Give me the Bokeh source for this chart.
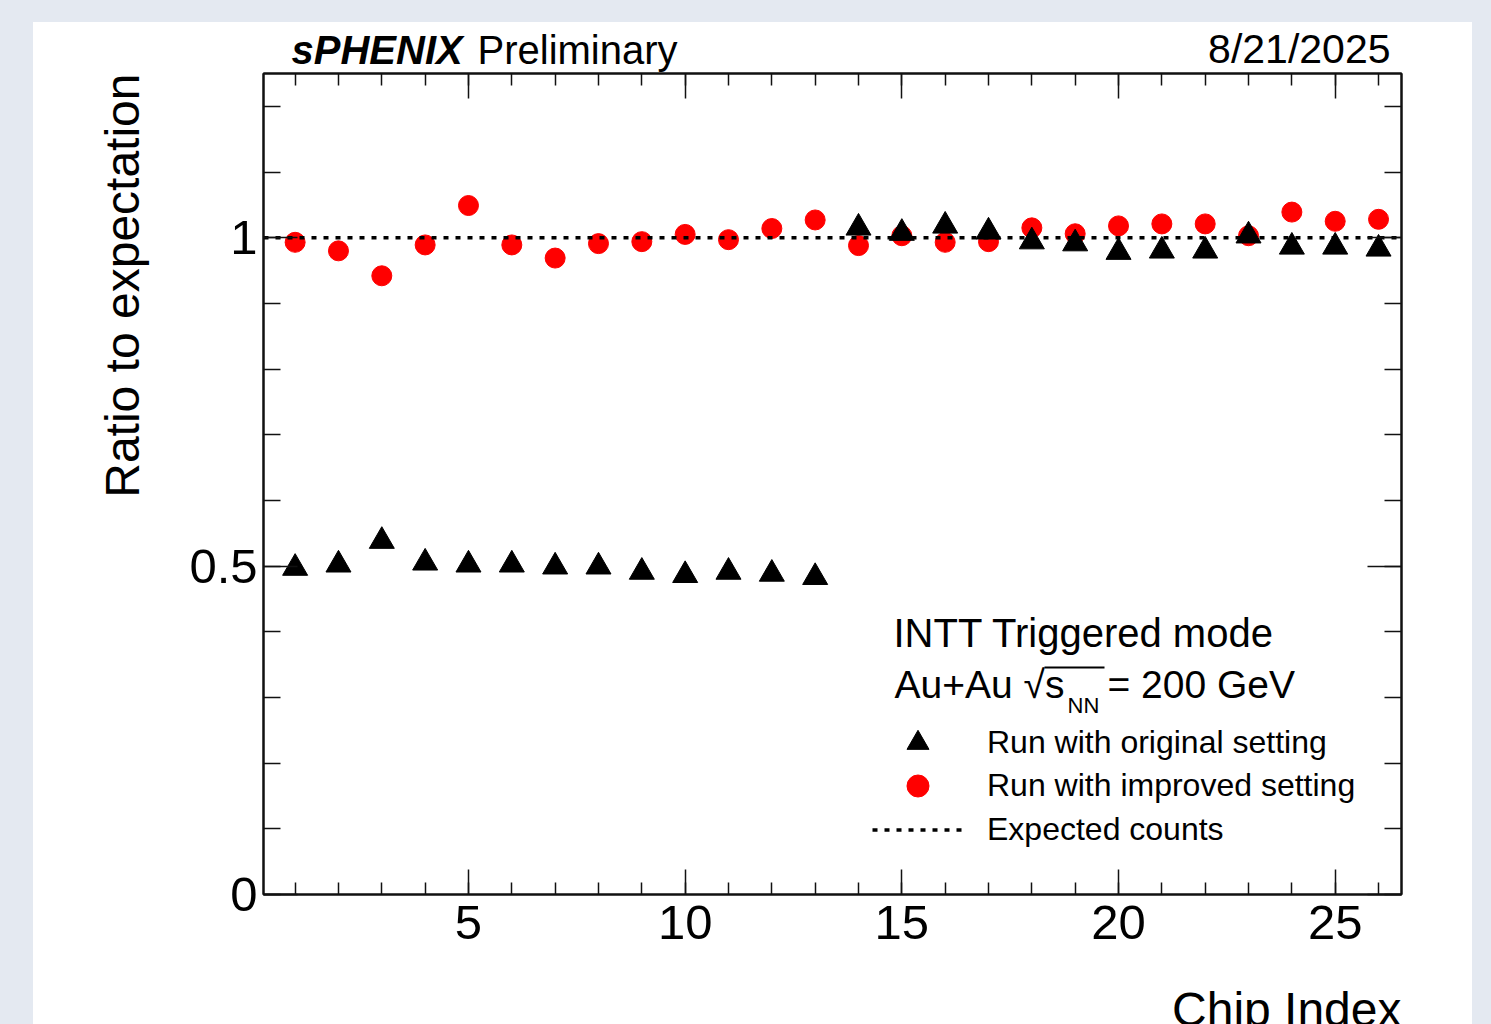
from bokeh.plotting import figure
from bokeh.layouts import column
from bokeh.models import (Range1d, LinearAxis, SingleIntervalTicker, Label, Legend,
                          LegendItem, NumeralTickFormatter, BoxAnnotation,
                          CustomJSTickFormatter, Title)
from bokeh.embed import file_html
from bokeh.resources import INLINE

# ---------------- data ----------------
chip_index = list(range(1, 27))
ratio_original = [0.497, 0.502, 0.538, 0.505, 0.502, 0.502, 0.499, 0.499, 0.491, 0.486,
                  0.491, 0.488, 0.483, 1.015, 1.007, 1.018, 1.009, 0.994, 0.991, 0.978,
                  0.980, 0.980, 1.003, 0.986, 0.986, 0.983]
ratio_improved = [0.993, 0.980, 0.942, 0.989, 1.049, 0.989, 0.969, 0.991, 0.994, 1.005,
                  0.997, 1.014, 1.027, 0.988, 1.003, 0.993, 0.994, 1.015, 1.006, 1.018,
                  1.021, 1.021, 1.003, 1.039, 1.025, 1.028]
expected_ratio = 1.0

x_start, x_end = 0.27, 26.53
y_start, y_end = 0.0, 1.25

FONT = "Liberation Sans"

# page geometry (pixels): white panel and plotting frame, used to place texts
PANEL_L, PANEL_T, PANEL_R = 33, 22, 1472
HEADER_H = 50
FL, FR, FT, FB = 263, 1401, 73, 894
BORDER_BOTTOM = 206
BASE_SHIFT = 0.36   # Label anchor correction (fraction of font size)


def dx(px):
    return x_start + (px - FL) / (FR - FL) * (x_end - x_start)


def dy(py):
    return y_start + (FB - py) / (FB - FT) * (y_end - y_start)


# ---------------- header strip with the top texts ----------------
head = figure(width=PANEL_R - PANEL_L, height=HEADER_H,
              x_range=Range1d(FL, FR), y_range=Range1d(PANEL_T + HEADER_H, PANEL_T),
              x_axis_type=None, y_axis_type=None, output_backend="svg", toolbar_location=None,
              min_border_left=0, min_border_right=0, min_border_top=0, min_border_bottom=0)
head.outline_line_color = None
head.grid.visible = False
head.background_fill_color = "white"
head.border_fill_color = "white"


def head_text(text, px, py, size, align="left", style="normal"):
    head.add_layout(Label(x=px, y=py - BASE_SHIFT * size, text=text, text_font=FONT,
                          text_font_size=f"{size}px", text_align=align,
                          text_baseline="alphabetic", text_font_style=style,
                          text_color="black"))


head_text("sPHENIX", 291, 63.5, 40, style="bold italic")
head_text("Preliminary", 477, 63.5, 40)
head_text("8/21/2025", 1390, 63.5, 41, align="right")

# ---------------- main plot ----------------
p = figure(width=PANEL_R - PANEL_L, height=1 + (FB - FT) + BORDER_BOTTOM,
           x_range=Range1d(x_start, x_end), y_range=Range1d(y_start, y_end),
           output_backend="svg", toolbar_location=None,
           min_border_left=230, min_border_right=71, min_border_top=1,
           min_border_bottom=BORDER_BOTTOM)
p.grid.visible = False
p.background_fill_color = "white"
p.border_fill_color = "white"
p.outline_line_color = "#111111"
p.outline_line_width = 2

xt = SingleIntervalTicker(interval=5, num_minor_ticks=5)
yt = SingleIntervalTicker(interval=0.5, num_minor_ticks=5)

xa = p.xaxis[0]
ya = p.yaxis[0]
xa.ticker = xt
ya.ticker = yt
ya.formatter = NumeralTickFormatter(format="0.[0]")

for ax in (xa, ya):
    ax.axis_line_color = "#111111"
    ax.axis_line_width = 2
    ax.major_tick_line_color = "#111111"
    ax.minor_tick_line_color = "#111111"
    ax.major_tick_line_width = 1.5
    ax.minor_tick_line_width = 1.5
    ax.major_tick_out = 0
    ax.minor_tick_out = 0
    ax.major_label_text_font = FONT
    ax.major_label_text_font_size = "49px"
    ax.major_label_text_color = "black"

xa.major_tick_in = 25
xa.minor_tick_in = 12
xa.major_label_standoff = 11
ya.major_tick_in = 34
ya.minor_tick_in = 17
ya.major_label_standoff = 6

# mirrored axes (ticks only, no labels)
blank = CustomJSTickFormatter(code="return ''")
top_ax = LinearAxis(ticker=xt, formatter=blank)
right_ax = LinearAxis(ticker=yt, formatter=blank)
for ax, tin, tmin in ((top_ax, 25, 12), (right_ax, 34, 17)):
    ax.axis_line_color = "#111111"
    ax.axis_line_width = 2
    ax.major_tick_line_color = "#111111"
    ax.minor_tick_line_color = "#111111"
    ax.major_tick_line_width = 1.5
    ax.minor_tick_line_width = 1.5
    ax.major_tick_out = 0
    ax.minor_tick_out = 0
    ax.major_tick_in = tin
    ax.minor_tick_in = tmin
    ax.major_label_text_font_size = "1px"
    ax.major_label_standoff = 0
p.add_layout(top_ax, "above")
p.add_layout(right_ax, "right")

# axis titles, aligned to the far end of each axis
p.add_layout(Title(text="Ratio to expectation", align="right", text_font=FONT,
                   text_font_size="48px", text_font_style="normal", text_color="black",
                   standoff=75), "left")
p.add_layout(Title(text="Chip Index", align="right", text_font=FONT,
                   text_font_size="48px", text_font_style="normal", text_color="black",
                   standoff=79), "below")

# ---------------- glyphs ----------------
r_imp = p.scatter(chip_index, ratio_improved, marker="circle", size=20,
                  fill_color="#ff0000", line_color="#ff0000")
r_orig = p.scatter(chip_index, ratio_original, marker="triangle", size=25,
                   fill_color="black", line_color="black")
r_exp = p.line([x_start, x_end], [expected_ratio, expected_ratio],
               line_color="black", line_width=3.5, line_dash="5 7")

# ---------------- legend (one entry per box) ----------------
GLYPH_H = 55
for label, rend, cy in (("Run with original setting", r_orig, 742),
                        ("Run with improved setting", r_imp, 785.5),
                        ("Expected counts", r_exp, 829.5)):
    lg = Legend(items=[LegendItem(label=label, renderers=[rend])])
    lg.glyph_width = 91
    lg.glyph_height = GLYPH_H
    lg.label_standoff = 24
    lg.padding = 0
    lg.margin = 0
    lg.spacing = 0
    lg.background_fill_alpha = 0
    lg.border_line_alpha = 0
    lg.label_text_font = FONT
    lg.label_text_font_size = "32px"
    lg.label_text_color = "black"
    lg.location = (872 - FL, FB - (cy + GLYPH_H / 2))
    p.add_layout(lg)

# ---------------- texts inside the frame ----------------


def add_text(text, px, py, size, align="left", style="normal"):
    p.add_layout(Label(x=dx(px), y=dy(py - BASE_SHIFT * size), text=text, text_font=FONT,
                       text_font_size=f"{size}px", text_align=align,
                       text_baseline="alphabetic", text_font_style=style,
                       text_color="black"))


add_text("INTT Triggered mode", 893, 647, 40)
add_text("Au+Au √s", 894, 698, 39)
add_text("NN", 1067, 713, 22)
add_text("= 200 GeV", 1107, 698, 39)
p.add_layout(BoxAnnotation(left=dx(1044), right=dx(1104), top=dy(666), bottom=dy(668),
                           fill_color="black", fill_alpha=1, line_alpha=0))

layout = column(head, p, spacing=0, styles={"background-color": "white"})
layout.margin = (PANEL_T, 0, 0, PANEL_L)

html = file_html(layout, INLINE, title="Ratio to expectation")
cut = html.rfind("</head>")
body_part = html[cut:].replace(
    "<body>", '<body style="background-color:#e4e9f1; margin:0; overflow:hidden;">', 1)
html = html[:cut] + body_part
open("out.html", "w").write(html)
